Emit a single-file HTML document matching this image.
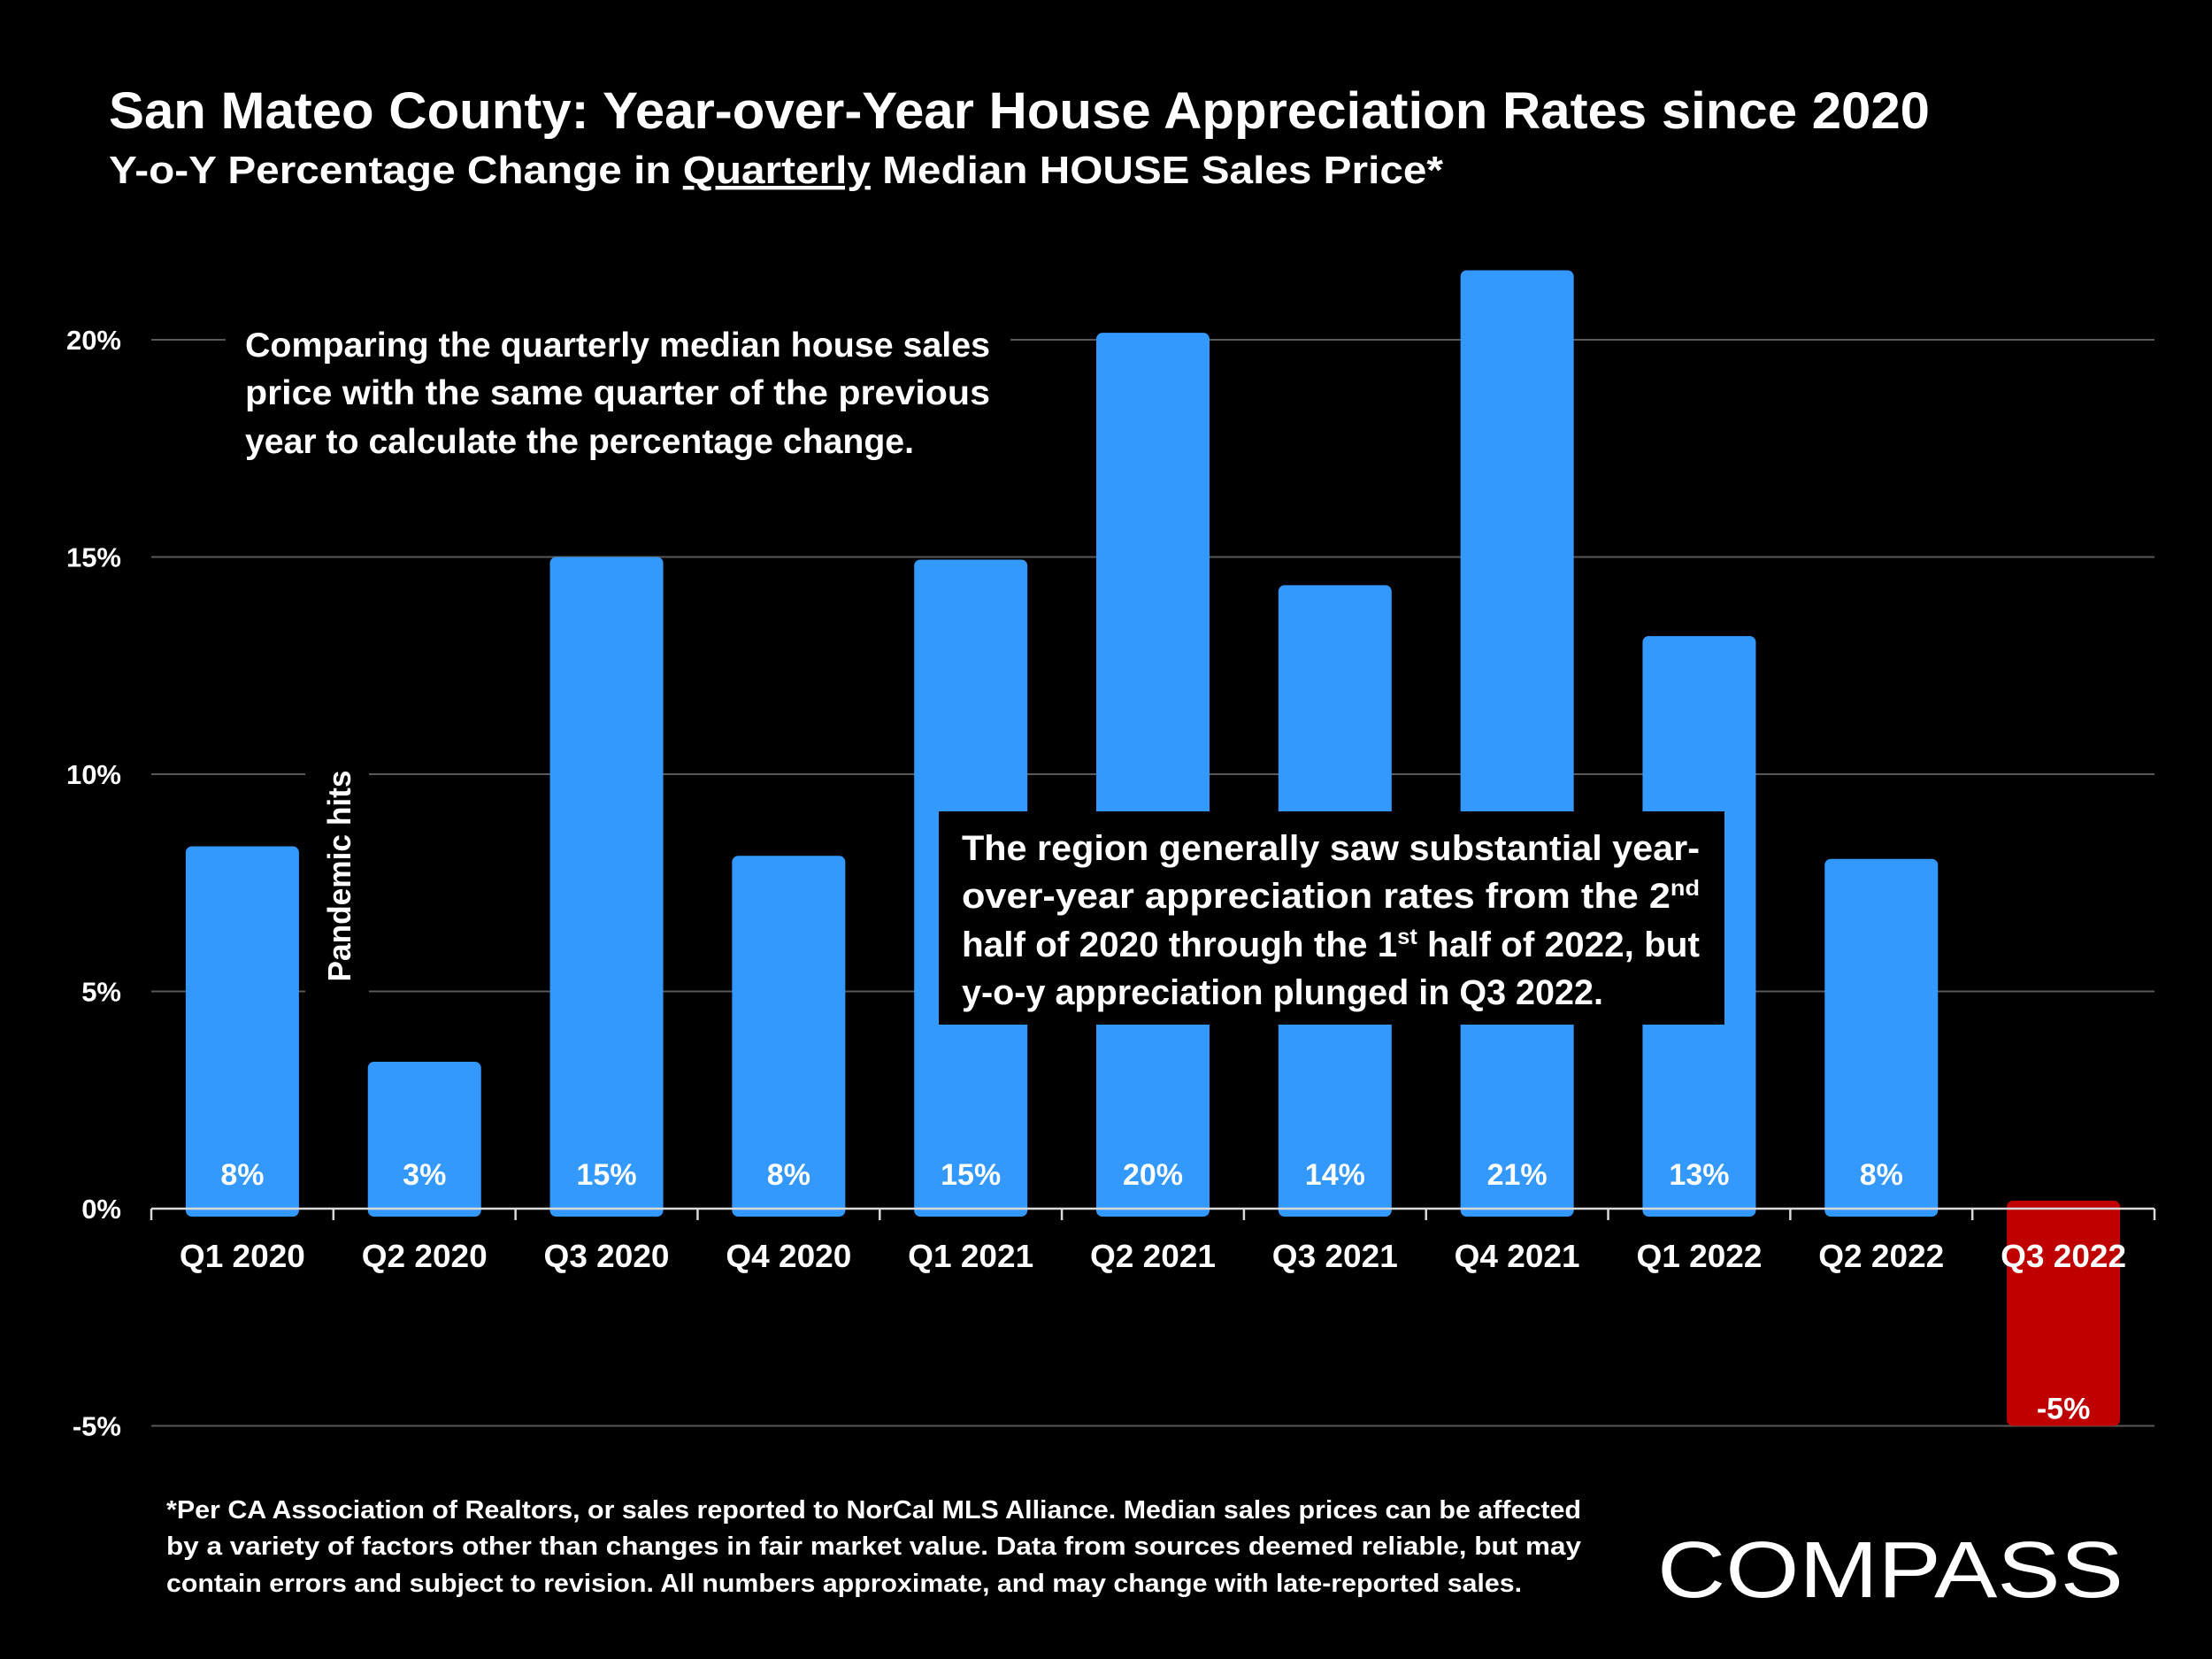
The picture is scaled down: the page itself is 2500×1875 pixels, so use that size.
<!DOCTYPE html>
<html><head><meta charset="utf-8">
<style>
html,body{margin:0;padding:0;background:#000;}
svg{display:block;font-family:"Liberation Sans",sans-serif;}
</style></head>
<body>
<svg id="chart" width="2500" height="1875" viewBox="0 0 2500 1875" xmlns="http://www.w3.org/2000/svg">
<rect width="2500" height="1875" fill="#000"/>
<text x="123" y="145" fill="#fff" font-size="58" font-weight="bold" textLength="2058" lengthAdjust="spacingAndGlyphs">San Mateo County: Year-over-Year House Appreciation Rates since 2020</text>
<text x="123" y="207" fill="#fff" font-size="44" font-weight="bold" textLength="1508" lengthAdjust="spacingAndGlyphs">Y-o-Y Percentage Change in <tspan text-decoration="underline">Quarterly</tspan> Median HOUSE Sales Price*</text>
<g id="grid"></g>
<g id="yticks"></g>
<g id="bars"></g>
<g id="xaxis"></g>

<rect x="255" y="354" width="887" height="180" fill="#000"/>
<g fill="#fff" font-size="39" font-weight="bold">
<text x="277" y="403" textLength="842" lengthAdjust="spacingAndGlyphs">Comparing the quarterly median house sales</text>
<text x="277" y="457" textLength="842" lengthAdjust="spacingAndGlyphs">price with the same quarter of the previous</text>
<text x="277" y="512" textLength="756" lengthAdjust="spacingAndGlyphs">year to calculate the percentage change.</text>
</g>

<rect x="345" y="860" width="72" height="265" fill="#000"/>
<text transform="translate(396,990) rotate(-90)" text-anchor="middle" fill="#fff" font-size="36" font-weight="bold" textLength="239" lengthAdjust="spacingAndGlyphs">Pandemic hits</text>

<rect x="1061" y="917" width="888" height="241" fill="#000"/>
<g fill="#fff" font-size="40" font-weight="bold">
<text x="1087" y="972" textLength="834" lengthAdjust="spacingAndGlyphs">The region generally saw substantial year-</text>
<text x="1087" y="1026" textLength="834" lengthAdjust="spacingAndGlyphs">over-year appreciation rates from the 2<tspan font-size="25" dy="-14">nd</tspan></text>
<text x="1087" y="1081" textLength="834" lengthAdjust="spacingAndGlyphs">half of 2020 through the 1<tspan font-size="25" dy="-14">st</tspan><tspan dy="14"> half of 2022, but</tspan></text>
<text x="1087" y="1135" textLength="725" lengthAdjust="spacingAndGlyphs">y-o-y appreciation plunged in Q3 2022.</text>
</g>

<g fill="#fff" font-size="29" font-weight="bold">
<text x="188" y="1716" textLength="1599" lengthAdjust="spacingAndGlyphs">*Per CA Association of Realtors, or sales reported to NorCal MLS Alliance. Median sales prices can be affected</text>
<text x="188" y="1757" textLength="1599" lengthAdjust="spacingAndGlyphs">by a variety of factors other than changes in fair market value. Data from sources deemed reliable, but may</text>
<text x="188" y="1799" textLength="1532" lengthAdjust="spacingAndGlyphs">contain errors and subject to revision. All numbers approximate, and may change with late-reported sales.</text>
</g>
<text x="1873" y="1805" fill="#fff" font-size="90" textLength="527" lengthAdjust="spacingAndGlyphs">COMPASS</text>
</svg>
<script>
const categories = ["Q1 2020","Q2 2020","Q3 2020","Q4 2020","Q1 2021","Q2 2021","Q3 2021","Q4 2021","Q1 2022","Q2 2022","Q3 2022"];
const values = [8.34, 3.38, 15.0, 8.12, 14.94, 20.16, 14.35, 21.6, 13.18, 8.05, -5.0];
const valueLabels = ["8%","3%","15%","8%","15%","20%","14%","21%","13%","8%","-5%"];
const yTicks = [-5, 0, 5, 10, 15, 20];
const yTickLabels = ["-5%","0%","5%","10%","15%","20%"];

const NS = "http://www.w3.org/2000/svg";
const X0 = 171, X1 = 2435, Y0 = 1366, PX = 49.1;
const band = (X1 - X0) / categories.length;
const barW = 128;
function y(v){ return Y0 - v * PX; }
function xc(i){ return X0 + band * (i + 0.5); }
function mk(tag, attrs, parent){
  const e = document.createElementNS(NS, tag);
  for (const k in attrs) e.setAttribute(k, attrs[k]);
  parent.appendChild(e); return e;
}
const grid = document.getElementById('grid');
const yt = document.getElementById('yticks');
yTicks.forEach((t, i) => {
  if (t !== 0) {
    const l = mk('line', {x1: X0, x2: X1, y1: y(t), y2: y(t), stroke: '#595959', 'stroke-width': 2}, grid);
    
    
  }
  const tx = mk('text', {x: 137, y: y(t) + 11, 'text-anchor': 'end', fill: '#fff', 'font-size': 31, 'font-weight': 'bold'}, yt);
  
  
  tx.textContent = yTickLabels[i];
});
const bars = document.getElementById('bars');
values.forEach((v, i) => {
  const neg = v < 0;
  const top = neg ? y(0) - 9 : y(v);
  const bot = neg ? y(v) : y(0) + 9;
  const r = mk('rect', {x: xc(i) - barW/2, y: top, width: barW, height: bot - top, rx: 7, fill: neg ? '#c00000' : '#3399ff'}, bars);
  
  
  const lbl = mk('text', {x: xc(i), y: neg ? y(v) - 8 : y(0) - 27, 'text-anchor': 'middle', fill: '#fff', 'font-size': 34, 'font-weight': 'bold'}, bars);
  
  
  lbl.textContent = valueLabels[i];
});
const xa = document.getElementById('xaxis');
const ax = mk('line', {x1: X0, x2: X1, y1: Y0, y2: Y0, stroke: '#d9d9d9', 'stroke-width': 2.5}, xa);


for (let i = 0; i <= categories.length; i++) {
  const tk = mk('line', {x1: X0 + band*i, x2: X0 + band*i, y1: Y0, y2: Y0 + 13, stroke: '#d9d9d9', 'stroke-width': 2.5}, xa);
  
  
}
categories.forEach((c, i) => {
  const t = mk('text', {x: xc(i), y: 1432, 'text-anchor': 'middle', fill: '#fff', 'font-size': 36, 'font-weight': 'bold', textLength: 142, lengthAdjust: 'spacingAndGlyphs'}, xa);
  
  
  t.textContent = c;
});
</script>
</body></html>
